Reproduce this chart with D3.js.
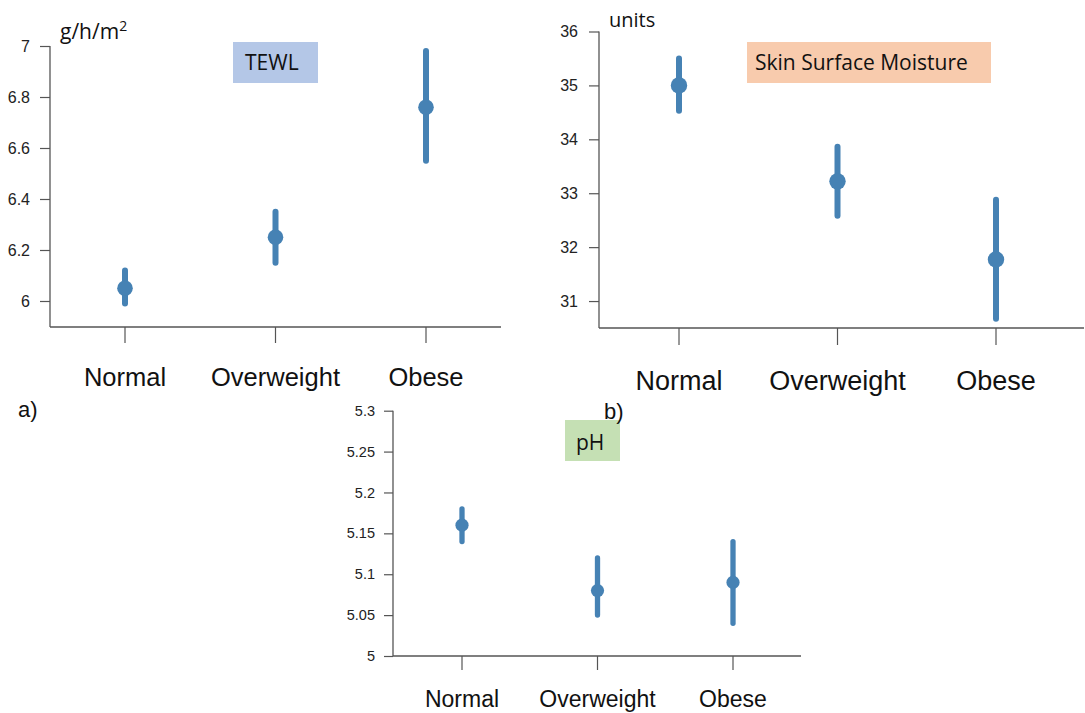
<!DOCTYPE html>
<html><head><meta charset="utf-8">
<script src="https://cdnjs.cloudflare.com/ajax/libs/d3/7.8.5/d3.min.js"></script>
<style>body{margin:0;background:#fff}svg{display:block}</style>
</head><body>
<svg id="c" width="1085" height="713"></svg>
<script>
const categories = ["Normal", "Overweight", "Obese"];

const tewlMean = [6.05, 6.25, 6.76];
const tewlLow  = [5.99, 6.15, 6.55];
const tewlHigh = [6.12, 6.35, 6.98];
const tewlTicks = [6, 6.2, 6.4, 6.6, 6.8, 7];
const tewlTickLabels = ["6", "6.2", "6.4", "6.6", "6.8", "7"];

const moistMean = [35.0, 33.22, 31.77];
const moistLow  = [34.53, 32.58, 30.67];
const moistHigh = [35.5, 33.86, 32.88];
const moistTicks = [31, 32, 33, 34, 35, 36];
const moistTickLabels = ["31", "32", "33", "34", "35", "36"];

const phMean = [5.16, 5.08, 5.09];
const phLow  = [5.14, 5.05, 5.04];
const phHigh = [5.18, 5.12, 5.14];
const phTicks = [5, 5.05, 5.1, 5.15, 5.2, 5.25, 5.3];
const phTickLabels = ["5", "5.05", "5.1", "5.15", "5.2", "5.25", "5.3"];

const svg = d3.select("#c");
const BLUE = "#4682b4";
const AX = "#555";
const SANS = "'Liberation Sans', Arial, sans-serif";
const CAL = "'Open Sans', 'Noto Sans', sans-serif";

function panel(o) {
  const g = svg.append("g");
  const x = d3.scalePoint().domain(categories).range([o.x0, o.x1]);
  const y = d3.scaleLinear().domain(o.domain).range([o.yBottom, o.yTop]);
  const ya = g.append("g").attr("transform", `translate(${o.axX},0)`)
    .call(d3.axisLeft(y).tickValues(o.ticks).tickFormat((d, i) => o.tickLabels[i]).tickSize(o.tickLen).tickSizeOuter(0).tickPadding(o.pad));
  ya.select(".domain").attr("stroke", AX).attr("stroke-width", 1.3);
  ya.selectAll(".tick line").attr("stroke", AX).attr("stroke-width", 1.2);
  ya.selectAll(".tick text").attr("font-family", SANS).attr("font-size", o.tickFont).attr("fill", "#222");
  ya.select(".domain").attr("d", `M0,${o.yBottom}V${y(o.domain[1])}`);
  g.append("line").attr("x1", o.axX).attr("x2", o.xAxisEnd)
    .attr("y1", o.yBottom).attr("y2", o.yBottom).attr("stroke", AX).attr("stroke-width", 1.5);
  categories.forEach(c => {
    g.append("line").attr("x1", x(c)).attr("x2", x(c)).attr("y1", o.yBottom).attr("y2", o.yBottom + o.xTickLen)
      .attr("stroke", AX).attr("stroke-width", 1.2);
    g.append("text").attr("x", x(c)).attr("y", o.labelY).attr("text-anchor", "middle")
      .attr("font-family", SANS).attr("font-size", o.catFont).attr("fill", "#111").text(c);
  });
  categories.forEach((c, i) => {
    g.append("line").attr("x1", x(c)).attr("x2", x(c)).attr("y1", y(o.low[i])).attr("y2", y(o.high[i]))
      .attr("stroke", BLUE).attr("stroke-width", o.sw).attr("stroke-linecap", "round");
    g.append("circle").attr("cx", x(c)).attr("cy", y(o.mean[i])).attr("r", o.r).attr("fill", BLUE);
  });
  g.append("rect").attr("x", o.box[0]).attr("y", o.box[1]).attr("width", o.box[2]).attr("height", o.box[3]).attr("fill", o.boxFill);
  g.append("text").attr("x", o.titleX).attr("y", o.titleY).attr("font-family", CAL).attr("font-size", o.titleFont)
    .attr("fill", "#111").text(o.title);
}

panel({
  x0: 125, x1: 426, axX: 50, xAxisEnd: 501, yBottom: 327, yTop: 46, domain: [5.898, 7],
  ticks: tewlTicks, tickLabels: tewlTickLabels, tickLen: 10, pad: 10, tickFont: "16px", xTickLen: 16,
  labelY: 386, catFont: "25.5px", mean: tewlMean, low: tewlLow, high: tewlHigh, sw: 6, r: 7.8,
  box: [233, 42, 85, 41], boxFill: "#b4c7e7", title: "TEWL", titleX: 245, titleY: 70, titleFont: "21px"
});
panel({
  x0: 679, x1: 996, axX: 599, xAxisEnd: 1084, yBottom: 328, yTop: 31.5, domain: [30.5, 36],
  ticks: moistTicks, tickLabels: moistTickLabels, tickLen: 10, pad: 11, tickFont: "16px", xTickLen: 17,
  labelY: 390, catFont: "27px", mean: moistMean, low: moistLow, high: moistHigh, sw: 6, r: 8.2,
  box: [747, 42, 244, 41], boxFill: "#f8cbad", title: "Skin Surface Moisture", titleX: 755, titleY: 70, titleFont: "21px"
});
panel({
  x0: 462, x1: 733, axX: 393, xAxisEnd: 801, yBottom: 656, yTop: 410.7, domain: [5, 5.3],
  ticks: phTicks, tickLabels: phTickLabels, tickLen: 9, pad: 9, tickFont: "14.5px", xTickLen: 14,
  labelY: 707, catFont: "23px", mean: phMean, low: phLow, high: phHigh, sw: 5.3, r: 6.6,
  box: [565, 420, 55, 41], boxFill: "#c5e0b4", title: "pH", titleX: 576, titleY: 450, titleFont: "21px"
});

const unit = svg.append("text").attr("x", 60).attr("y", 39).attr("font-family", CAL).attr("font-size", "21px").attr("fill", "#111");
unit.append("tspan").text("g/h/m");
unit.append("tspan").attr("font-size", "14px").attr("dy", -8).text("2");
svg.append("text").attr("x", 609).attr("y", 27).attr("font-family", CAL).attr("font-size", "20px").attr("fill", "#111").text("units");
svg.append("text").attr("x", 18).attr("y", 417).attr("font-family", SANS).attr("font-size", "22px").attr("fill", "#111").text("a)");
svg.append("text").attr("x", 604).attr("y", 419).attr("font-family", SANS).attr("font-size", "22px").attr("fill", "#111").text("b)");
</script>
</body></html>
